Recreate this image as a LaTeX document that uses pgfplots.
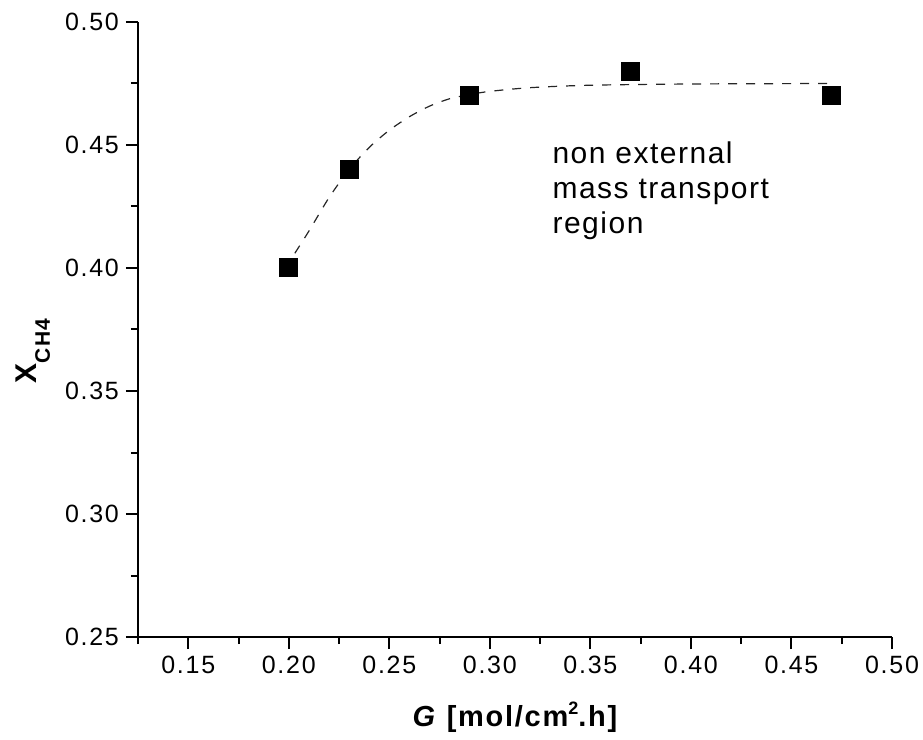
\documentclass[border=0pt]{standalone}
\usepackage{fontspec}
\setmainfont{Liberation Sans}
\usepackage{pgfplots}
\pgfplotsset{compat=1.18}
\begin{document}
\begin{tikzpicture}
\useasboundingbox (-69pt,-51.5pt) rectangle (392.5pt,318.5pt);
\begin{axis}[
  scale only axis,
  width=377pt, height=307.5pt,
  at={(0,0)}, anchor=south west,
  xmin=0.125, xmax=0.50, ymin=0.25, ymax=0.50,
  axis x line*=bottom, axis y line*=left,
  axis line style={-, line width=1pt},
  tick align=outside,
  major tick length=6pt, minor tick length=3.5pt,
  every tick/.style={black, line width=1pt},
  xtick={0.15,0.20,0.25,0.30,0.35,0.40,0.45,0.50},
  minor xtick={0.125,0.175,0.225,0.275,0.325,0.375,0.425,0.475},
  ytick={0.25,0.30,0.35,0.40,0.45,0.50},
  minor ytick={0.275,0.325,0.375,0.425,0.475},
  /pgf/number format/assume math mode=true,
  /pgf/number format/.cd, fixed, fixed zerofill, precision=2, /pgfplots/.cd,
  ticklabel style={font=\fontsize{12.5}{14}\selectfont\addfontfeature{LetterSpace=7}},
  xlabel={\bfseries\addfontfeature{LetterSpace=6}\textit{G} [mol/cm\raisebox{6pt}{\fontsize{9}{10}\selectfont\bfseries 2}.h]},
  xlabel style={font=\fontsize{14.5}{16}\selectfont, at={(axis description cs:0.5,0)}, anchor=base, yshift=-45pt},
  ylabel={\fontsize{15}{18}\selectfont\bfseries X\raisebox{-6.5pt}{\fontsize{10.5}{12}\selectfont\bfseries\addfontfeature{LetterSpace=6}CH4}},
  ylabel style={at={(axis description cs:-0.134,0.465)}, anchor=base},
  clip=false,
]
\addplot[black!85, line width=0.6pt, dash pattern=on 4.5pt off 4.5pt, smooth] coordinates {
(0.203,0.406)(0.21,0.415)(0.22,0.4286)(0.23,0.440)(0.24,0.4490)(0.25,0.4560)(0.26,0.4615)(0.27,0.4658)(0.28,0.4688)(0.29,0.4705)(0.30,0.4718)(0.32,0.4733)(0.35,0.4743)(0.40,0.4748)(0.47,0.4750)
};
\addplot[only marks, mark=square*, mark size=4.5pt, mark options={fill=black, draw=black, line width=0pt}] coordinates {
(0.20,0.40)(0.23,0.44)(0.29,0.47)(0.37,0.48)(0.47,0.47)
};
\node[anchor=north west, inner sep=0pt, align=left, font=\fontsize{15}{17.5}\selectfont\addfontfeature{LetterSpace=5}] at (axis cs:0.331,0.4515) {non external\\mass transport\\region};
\end{axis}
\end{tikzpicture}
\end{document}
